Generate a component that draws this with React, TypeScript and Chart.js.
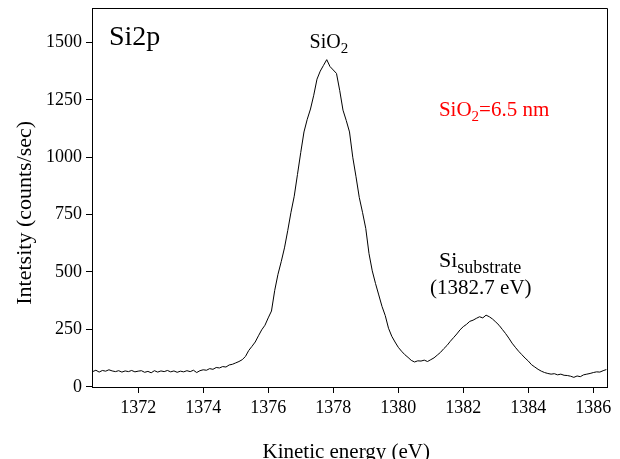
import React, { useEffect, useRef } from "react";
import { Chart, registerables } from "chart.js";

Chart.register(...registerables);

const FONT = '"Liberation Serif", "Times New Roman", serif';

// Energy grid (eV) of the spectrum
const ENERGY_START = 1370.6;
const ENERGY_STEP = 0.1;

// Intensity (counts/sec), one value per 0.1 eV from 1370.6 eV to 1386.4 eV
const INTENSITY = [
  66, 72, 64, 71, 68, 74, 69, 66, 70, 64, // 1370.6 - 1371.5
  69, 66, 71, 65, 68, 70, 63, 67, 61, 70, // 1371.6 - 1372.5
  64, 69, 66, 71, 65, 69, 63, 68, 65, 70, // 1372.6 - 1373.5
  66, 72, 62, 70, 74, 72, 79, 76, 84, 82, // 1373.6 - 1374.5
  88, 86, 95, 98, 104, 110, 118, 132, 158, 176, // 1374.6 - 1375.5
  195, 222, 248, 268, 300, 330, 420, 490, 545, 605, // 1375.6 - 1376.5
  680, 760, 830, 925, 1020, 1110, 1165, 1210, 1270, 1340, // 1376.6 - 1377.5
  1375, 1400, 1425, 1395, 1380, 1365, 1290, 1205, 1160, 1110, // 1377.6 - 1378.5
  1000, 915, 825, 760, 690, 580, 505, 450, 400, 350, // 1378.6 - 1379.5
  310, 255, 220, 195, 172, 155, 140, 128, 115, 108, // 1379.6 - 1380.5
  113, 112, 116, 110, 118, 126, 138, 150, 166, 180, // 1380.6 - 1381.5
  198, 214, 230, 248, 262, 272, 285, 290, 298, 305, // 1381.6 - 1382.5
  300, 312, 305, 295, 282, 268, 250, 232, 212, 190, // 1382.6 - 1383.5
  172, 155, 140, 125, 112, 96, 86, 76, 68, 62, // 1383.6 - 1384.5
  58, 55, 57, 52, 55, 50, 49, 46, 41, 47, // 1384.6 - 1385.5
  44, 52, 55, 58, 62, 65, 64, 70, 75, // 1385.6 - 1386.4
];

const X_TICKS = [1372, 1374, 1376, 1378, 1380, 1382, 1384, 1386];
const Y_TICKS = [0, 250, 500, 750, 1000, 1250, 1500];
const X_MIN = 1370.58;
const X_MAX = 1386.42;
const Y_MIN = -1;
const Y_MAX = 1650;

const X_TITLE = "Kinetic energy (eV)";
const Y_TITLE = "Intetsity (counts/sec)";

function drawParts(
  ctx: CanvasRenderingContext2D,
  x: number,
  y: number,
  parts: { text: string; size: number; drop: number }[],
  color: string,
  align: "left" | "center"
) {
  ctx.save();
  ctx.fillStyle = color;
  ctx.textBaseline = "alphabetic";
  ctx.textAlign = "left";
  const widths = parts.map((p) => {
    ctx.font = `${p.size}px ${FONT}`;
    return ctx.measureText(p.text).width;
  });
  const total = widths.reduce((a, b) => a + b, 0);
  let cx = align === "center" ? x - total / 2 : x;
  parts.forEach((p, i) => {
    ctx.font = `${p.size}px ${FONT}`;
    ctx.fillText(p.text, cx, y + p.drop);
    cx += widths[i];
  });
  ctx.restore();
}

const decorPlugin = {
  id: "decor",
  afterDraw(chart: any) {
    const { ctx, chartArea, scales } = chart;
    const { left, top, right, bottom } = chartArea;
    ctx.save();
    ctx.strokeStyle = "#000";
    ctx.lineWidth = 1;
    ctx.beginPath();
    const ty = Math.floor(top) + 0.5;
    const rx = Math.floor(right) + 0.5;
    ctx.moveTo(Math.floor(left) + 0.5, ty);
    ctx.lineTo(rx, ty);
    ctx.lineTo(rx, Math.floor(bottom) + 0.5);
    ctx.stroke();
    ctx.restore();

    const xs = scales.x;
    const ys = scales.y;
    const px = (v: number) => xs.getPixelForValue(v);
    const py = (v: number) => ys.getPixelForValue(v);

    // Axis titles
    ctx.save();
    ctx.fillStyle = "#000";
    ctx.font = `21px ${FONT}`;
    ctx.textAlign = "center";
    ctx.textBaseline = "alphabetic";
    ctx.fillText(X_TITLE, px(1378.4), 458);
    ctx.translate(30.5, py(758));
    ctx.rotate(-Math.PI / 2);
    ctx.font = `22px ${FONT}`;
    ctx.fillText(Y_TITLE, 0, 0);
    ctx.restore();

    // Annotations
    drawParts(ctx, px(1371.1), py(1489), [{ text: "Si2p", size: 28, drop: 0 }], "#000", "left");
    drawParts(
      ctx,
      px(1377.27),
      py(1476),
      [
        { text: "SiO", size: 20, drop: 0 },
        { text: "2", size: 15, drop: 5 },
      ],
      "#000",
      "left"
    );
    drawParts(
      ctx,
      px(1381.25),
      py(1179),
      [
        { text: "SiO", size: 21, drop: 0 },
        { text: "2", size: 15, drop: 5 },
        { text: "=6.5 nm", size: 21, drop: 0 },
      ],
      "#ff0000",
      "left"
    );
    drawParts(
      ctx,
      px(1381.25),
      py(523),
      [
        { text: "Si", size: 22, drop: 0 },
        { text: "substrate", size: 18, drop: 6 },
      ],
      "#000",
      "left"
    );
    drawParts(ctx, px(1382.54), py(403), [{ text: "(1382.7 eV)", size: 21, drop: 0 }], "#000", "center");
  },
};

export default function App() {
  const canvasRef = useRef<HTMLCanvasElement | null>(null);

  useEffect(() => {
    const canvas = canvasRef.current;
    if (!canvas) return;
    const points = INTENSITY.map((v, i) => ({
      x: Math.round((ENERGY_START + i * ENERGY_STEP) * 100) / 100,
      y: v,
    }));
    const tickFont = { family: FONT, size: 18 };
    const chart = new Chart(canvas, {
      type: "line",
      data: {
        datasets: [
          {
            label: "Si2p",
            data: points,
            borderColor: "#000",
            borderWidth: 1,
            pointRadius: 0,
            tension: 0,
            fill: false,
          },
        ],
      },
      options: {
        responsive: false,
        animation: false,
        devicePixelRatio: 1,
        layout: { padding: { top: 8, right: 13, left: 0, bottom: 0 } },
        plugins: {
          legend: { display: false },
          tooltip: { enabled: false },
          title: { display: false },
        },
        scales: {
          x: {
            type: "linear",
            min: X_MIN,
            max: X_MAX,
            afterBuildTicks: (s: any) => {
              s.ticks = X_TICKS.map((v) => ({ value: v }));
            },
            afterFit: (s: any) => {
              s.height = 72;
              s.paddingLeft = 0;
              s.paddingRight = 0;
            },
            grid: {
              display: true,
              drawOnChartArea: false,
              drawTicks: true,
              tickLength: 6,
              color: "#000",
              lineWidth: 1,
            },
            border: { display: true, color: "#000", width: 1 },
            ticks: {
              font: tickFont,
              color: "#000",
              padding: 4,
              maxRotation: 0,
              autoSkip: false,
              callback: (v: any) => String(v),
            },
          },
          y: {
            type: "linear",
            min: Y_MIN,
            max: Y_MAX,
            afterBuildTicks: (s: any) => {
              s.ticks = Y_TICKS.map((v) => ({ value: v }));
            },
            afterFit: (s: any) => {
              s.width = 92;
              s.paddingTop = 0;
              s.paddingBottom = 0;
            },
            grid: {
              display: true,
              drawOnChartArea: false,
              drawTicks: true,
              tickLength: 6,
              color: "#000",
              lineWidth: 1,
            },
            border: { display: true, color: "#000", width: 1 },
            ticks: {
              font: tickFont,
              color: "#000",
              padding: 4,
              autoSkip: false,
              callback: (v: any) => String(v),
            },
          },
        },
      },
      plugins: [decorPlugin],
    });
    return () => chart.destroy();
  }, []);

  return (
    <div style={{ position: "fixed", left: 0, top: 0, width: 620, height: 459, background: "#fff" }}>
      <canvas ref={canvasRef} width={620} height={459} />
    </div>
  );
}
